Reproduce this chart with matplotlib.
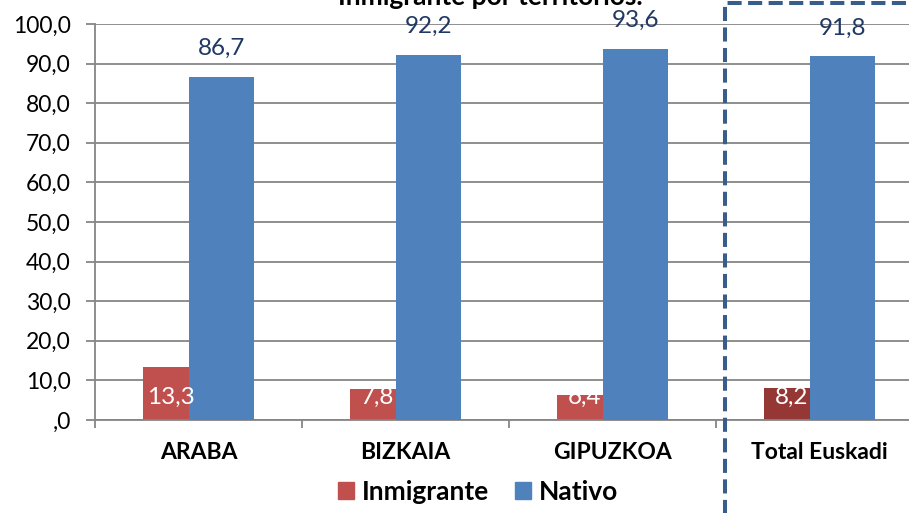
import matplotlib
matplotlib.use('Agg')
import matplotlib.pyplot as plt
from matplotlib.patches import Patch
from matplotlib.lines import Line2D
import numpy as np

territorios = ['ARABA', 'BIZKAIA', 'GIPUZKOA', 'Total Euskadi']
inmigrante = [13.3, 7.8, 6.4, 8.2]
nativo = [86.7, 92.2, 93.6, 91.8]
yticks = [0, 10, 20, 30, 40, 50, 60, 70, 80, 90, 100]

rojo = '#C0504D'
rojo_total = '#953735'
azul = '#4F81BD'
gris = '#868686'

plt.rcParams['font.family'] = ['Lato', 'DejaVu Sans']

W, H = 909, 513
fig = plt.figure(figsize=(W / 100, H / 100), dpi=100)
ax = fig.add_axes([95 / W, (H - 420) / H, 828 / W, 396 / H])

x = np.arange(len(territorios))
ancho = 0.314
desp = 0.109

colores_inm = [rojo] * (len(territorios) - 1) + [rojo_total]
ax.bar(x - desp, inmigrante, ancho, color=colores_inm, zorder=2)
ax.bar(x + desp, nativo, ancho, color=azul, zorder=3)

def coma(v):
    s = '%.1f' % v
    if s.startswith('0'):
        s = s[1:]
    return s.replace('.', ',')

for i in range(len(territorios)):
    ax.text(x[i] - desp - 0.025, 5.8, coma(inmigrante[i]), ha='center', va='center',
            color='white', fontsize=17.5, zorder=5)
    ax.text(x[i] + desp, nativo[i] + 7.2, coma(nativo[i]), ha='center', va='center',
            color='#1F3864', fontsize=17.5, zorder=5)

ax.set_xlim(-0.5, 3.5)
ax.set_ylim(0, 100)
ax.set_yticks(yticks)
ax.set_yticklabels([coma(v) for v in yticks], fontsize=16.5)
ax.yaxis.grid(True, color=gris, linewidth=1.3, zorder=0)
ax.set_axisbelow(True)

ax.set_xticks(x)
ax.set_xticklabels(territorios, fontsize=16.5, fontweight='bold')
ax.tick_params(axis='x', which='major', length=0, pad=16)
ax.set_xticks(np.arange(-0.5, 3, 1), minor=True)
ax.tick_params(axis='x', which='minor', length=6, width=1.3, color=gris)
ax.tick_params(axis='y', length=6.5, width=1.3, color=gris, pad=11)

for lado in ['top', 'right']:
    ax.spines[lado].set_visible(False)
for lado in ['left', 'bottom']:
    ax.spines[lado].set_color(gris)
    ax.spines[lado].set_linewidth(1.3)

fig.text(490 / W, 1 - 5 / H, 'Inmigrante por territorios.', ha='center', va='baseline',
         fontsize=19, fontweight='bold')

# recuadro discontinuo del total
fig.add_artist(Line2D([725 / W, 725 / W, 915 / W], [-0.02, 1 - 3 / H, 1 - 3 / H],
                      transform=fig.transFigure, color='#385D8A', linewidth=2.9,
                      dashes=(3.5, 1.6), zorder=10))

handles = [Patch(color=rojo, label='Inmigrante'), Patch(color=azul, label='Nativo')]
fig.legend(handles=handles, loc='center', bbox_to_anchor=(478 / W, 1 - 492 / H), ncol=2,
           frameon=False, prop={'size': 19, 'weight': 'bold'}, handlelength=0.6,
           handleheight=0.6, handletextpad=0.3, columnspacing=1.0)

fig.savefig('out.png', dpi=100)
